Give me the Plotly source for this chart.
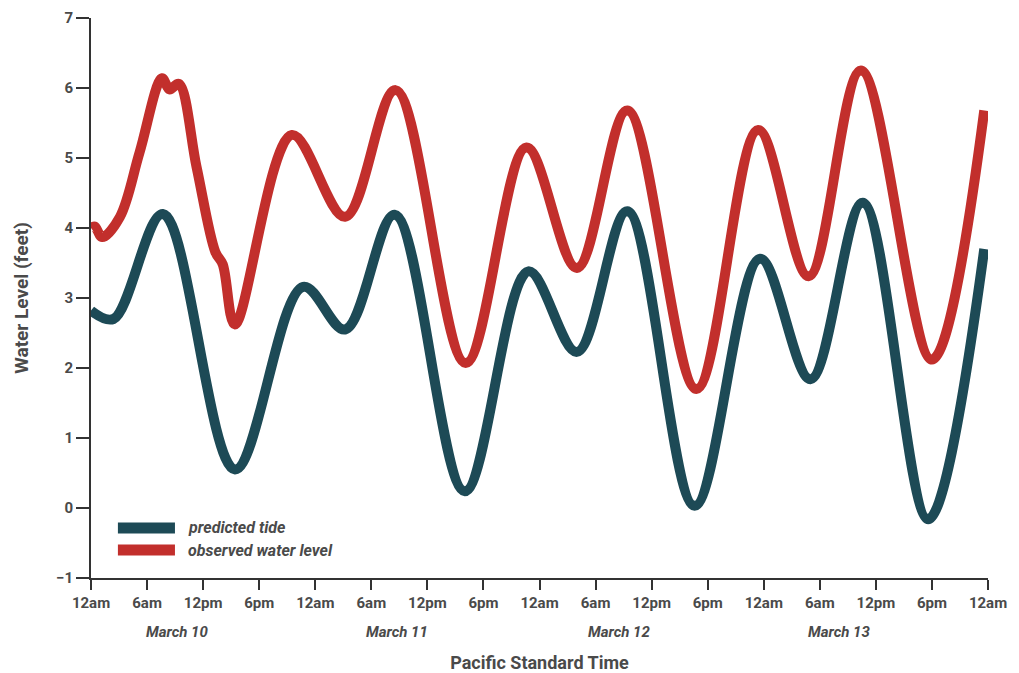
import plotly.graph_objects as go

# Hours since 12am March 10 (PST)
pred_hours = [0.0, 2.4, 7.7, 15.4, 22.7, 27.2, 32.5, 40.0, 46.8, 52.0, 57.4, 64.6, 71.6, 77.0, 82.6, 89.6, 95.6]
pred_level = [2.82, 2.70, 4.20, 0.55, 3.16, 2.55, 4.19, 0.24, 3.38, 2.23, 4.24, 0.03, 3.56, 1.84, 4.36, -0.16, 3.70]

obs_hours = [0.0, 0.4, 1.2, 3.1, 5.2, 7.6, 8.4, 9.4, 11.3, 13.3, 14.1, 15.4, 21.5, 27.2, 32.6, 40.1, 46.6, 52.0, 57.4, 64.8, 71.4, 76.8, 82.4, 90.0, 95.6]
obs_level = [4.00, 4.02, 3.87, 4.16, 5.08, 6.14, 5.98, 6.06, 4.87, 3.66, 3.48, 2.62, 5.33, 4.16, 5.97, 2.07, 5.15, 3.43, 5.68, 1.70, 5.40, 3.31, 6.25, 2.12, 5.68]

tick_hours = list(range(0, 97, 6))
tick_labels = ["12am", "6am", "12pm", "6pm"] * 4 + ["12am"]
day_labels = ["March 10", "March 11", "March 12", "March 13"]
day_centers = [9.2, 32.8, 56.5, 80.0]
y_ticks = list(range(-1, 8))

series_names = ["predicted tide", "observed water level"]
series_colors = ["#1d4a56", "#c22f2c"]

FONT = "Roboto, Liberation Sans, sans-serif"
TXT = "#4a4a4a"
AX = "#333333"

fig = go.Figure()
fig.add_trace(go.Scatter(x=pred_hours, y=pred_level, mode="lines", name=series_names[0],
                         line=dict(color=series_colors[0], width=10, shape="spline", smoothing=1.0),
                         showlegend=False))
fig.add_trace(go.Scatter(x=obs_hours, y=obs_level, mode="lines", name=series_names[1],
                         line=dict(color=series_colors[1], width=10, shape="spline", smoothing=1.0),
                         showlegend=False))

# legend drawn as swatches + italic labels
for i, (nm, col) in enumerate(zip(series_names, series_colors)):
    ypos = 0.0893 - i * 0.0393
    fig.add_shape(type="line", xref="paper", yref="paper", x0=0.030, x1=0.0936, y0=ypos, y1=ypos,
                  line=dict(color=col, width=11))
    fig.add_annotation(xref="paper", yref="paper", x=0.106, y=ypos, text=nm, showarrow=False,
                       xanchor="left", yanchor="middle",
                       font=dict(family=FONT, size=16, color=TXT, style="italic", weight="bold"))

for d, c in zip(day_labels, day_centers):
    fig.add_annotation(x=c, xref="x", y=-0.096, yref="paper", text=d, showarrow=False,
                       xanchor="center", yanchor="middle",
                       font=dict(family=FONT, size=15, color=TXT, style="italic", weight="bold"))

# page body has an 8px default margin, so margins are offset to land the plot area
fig.update_layout(
    width=1019, height=673,
    margin=dict(l=83, r=39, t=10, b=103, autoexpand=False),
    paper_bgcolor="white", plot_bgcolor="white",
    font=dict(family=FONT, color=TXT),
    xaxis=dict(range=[0, 96], tickvals=tick_hours, ticktext=tick_labels, automargin=False,
               showgrid=False, zeroline=False, showline=True, linecolor=AX, linewidth=2,
               ticks="outside", ticklen=10, tickwidth=2, tickcolor=AX,
               ticklabeloverflow="allow",
               tickfont=dict(family=FONT, size=15, color=TXT, weight="bold"),
               title=dict(text="Pacific Standard Time", standoff=45,
                          font=dict(family=FONT, size=18, color=TXT, weight="bold"))),
    yaxis=dict(range=[-1.0005, 7.0005], tickvals=y_ticks, automargin=False,
               showgrid=False, zeroline=False, showline=True, linecolor=AX, linewidth=2,
               ticks="outside", ticklen=13, tickwidth=2, tickcolor=AX,
               ticklabeloverflow="allow",
               tickfont=dict(family=FONT, size=15, color=TXT, weight="bold"),
               title=dict(text="Water Level (feet)", standoff=22,
                          font=dict(family=FONT, size=19, color=TXT, weight="bold"))),
)

fig.write_html("out.html")
